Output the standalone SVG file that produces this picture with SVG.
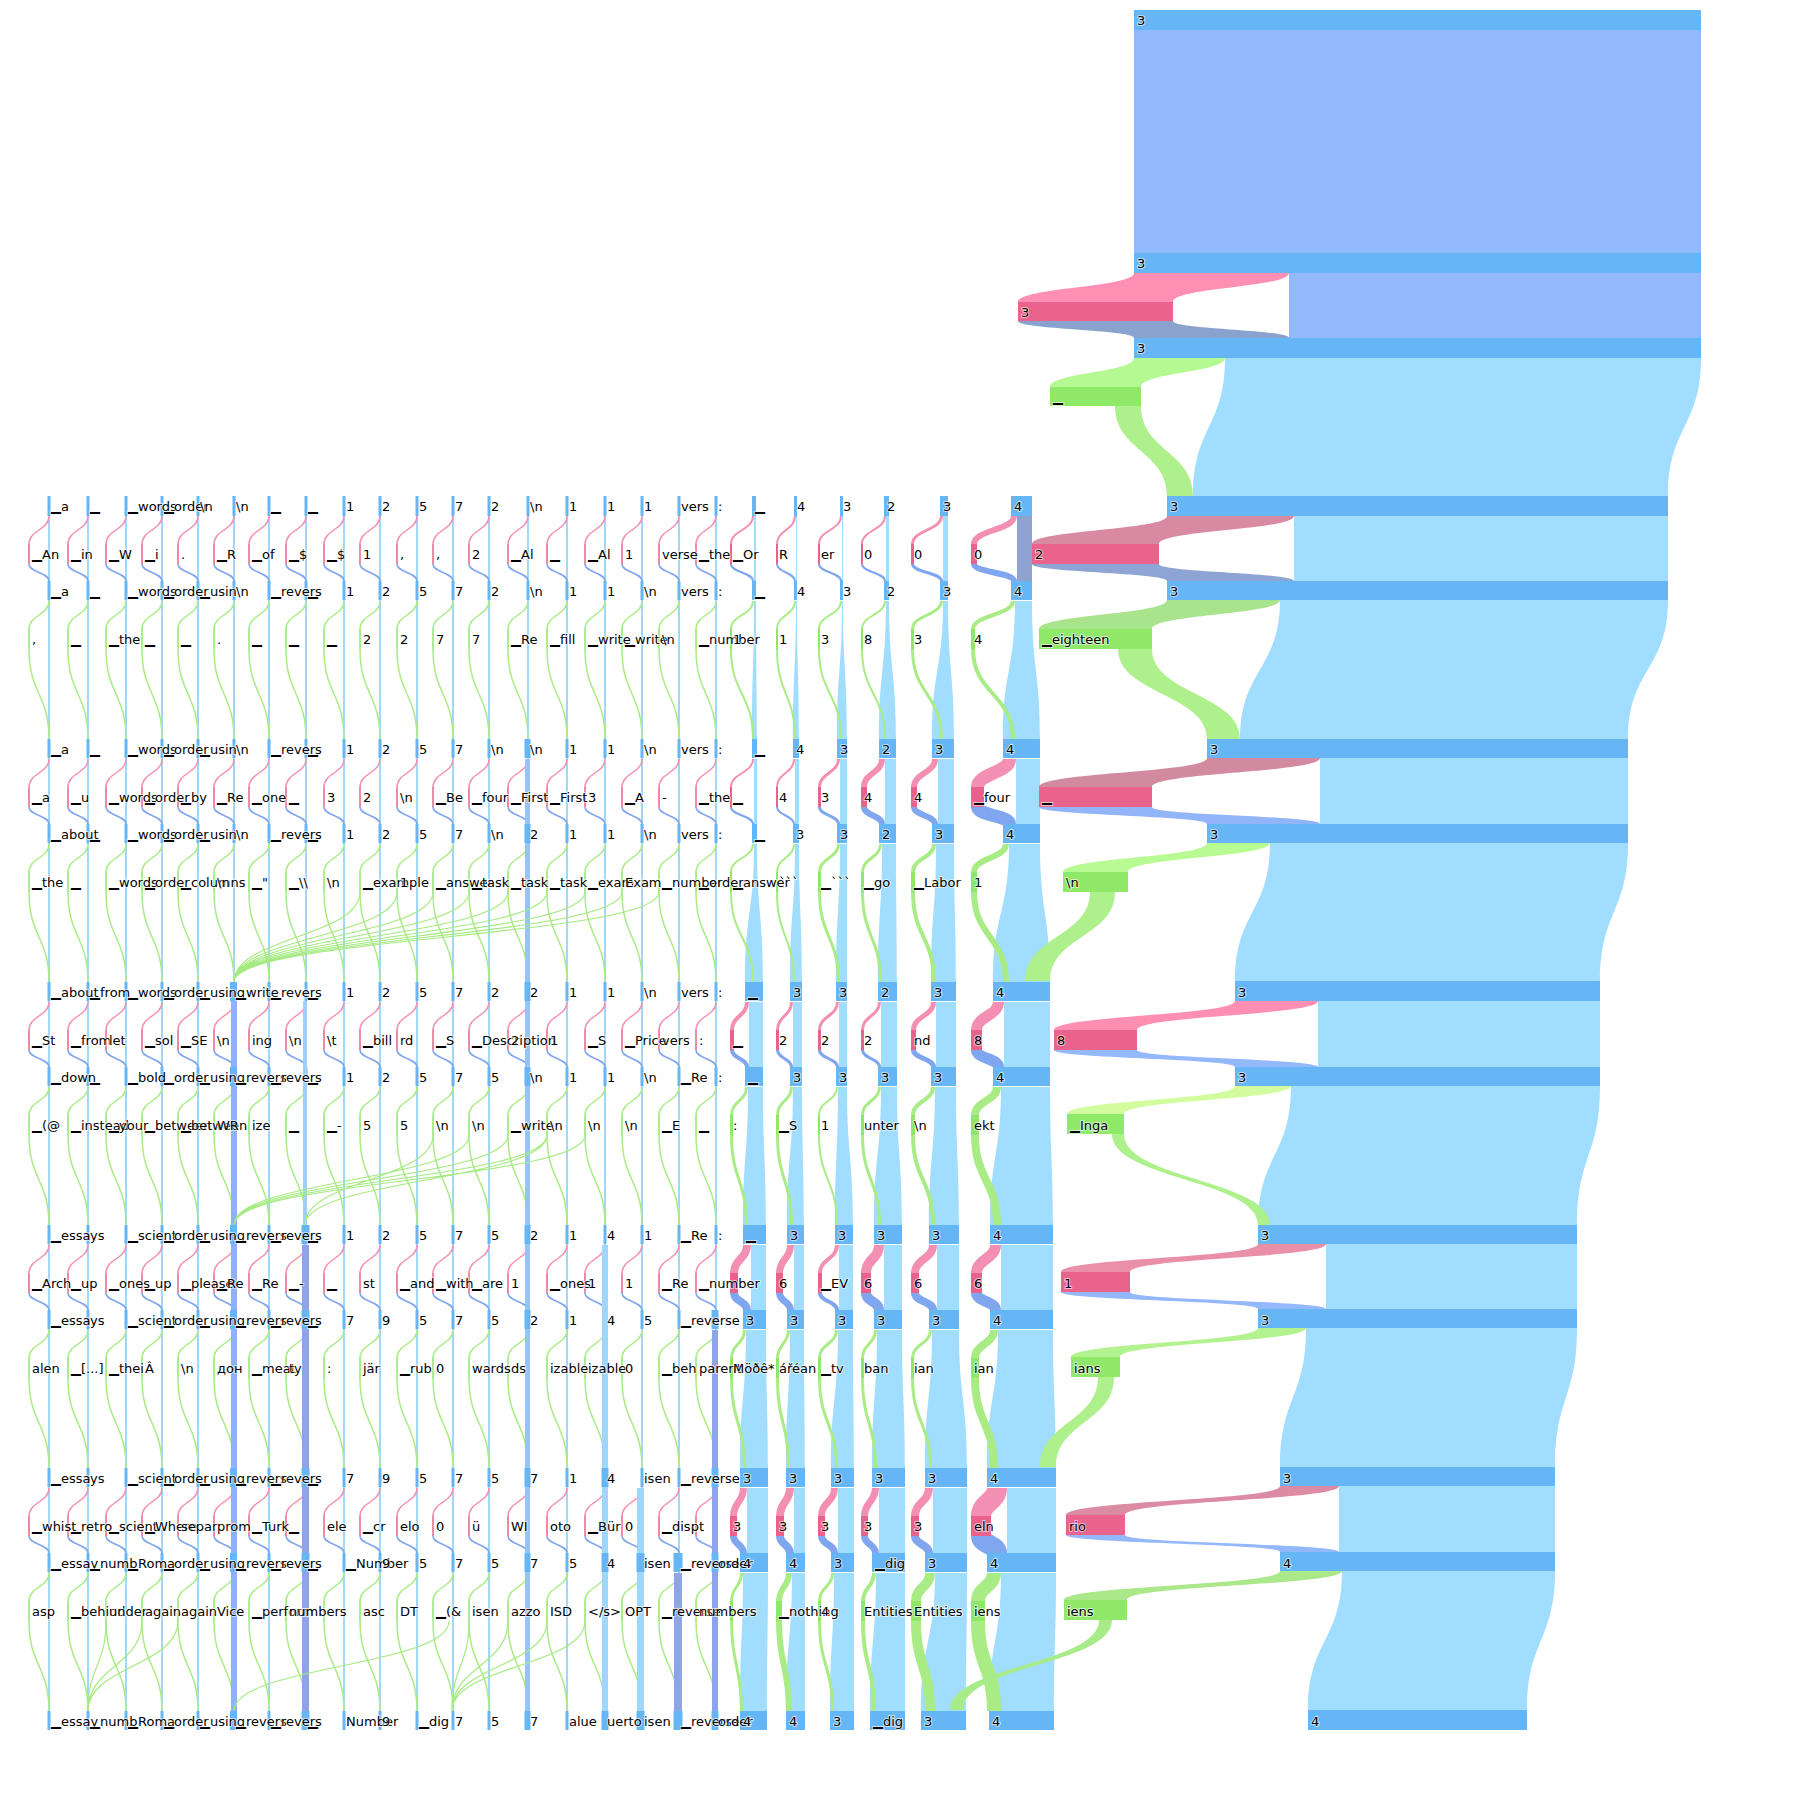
<svg xmlns="http://www.w3.org/2000/svg" width="1800" height="1800" viewBox="0 0 1800 1800">
<style>
text{font-family:"DejaVu Sans",Verdana,sans-serif;font-size:13px;fill:#000;paint-order:stroke;stroke:#fff;stroke-width:2px;stroke-opacity:.6}
.n{fill:#66b6f6}
.cs{fill:#a0d8fc}
.pi{fill:none;stroke:#f38fb2}
.pn{fill:none;stroke:#e8628b}
.pr{fill:none;stroke:#80a6ef}
.gi{fill:none;stroke:#a9ec86}
.gn{fill:none;stroke:#8ee866}
.go{fill:none;stroke:#a9ec86}
.lb{fill:#a0ddfe}
.pu{fill:#93b9fd}
.pk{fill:#e9638c}
.gr{fill:#8fe867}
.gf{fill:#aef08c}
.rt{fill:#93b8fc}
.x{fill:none;stroke:#a6ea82;stroke-width:1.2px}
</style>
<defs>
<g id="P"><path class="pi" vector-effect="non-scaling-stroke" d="M0,20C0,34 -20,34 -20,48"/><path class="pn" vector-effect="non-scaling-stroke" d="M-20,48V68"/><path class="pr" vector-effect="non-scaling-stroke" d="M-20,68C-20,76.5 0,76.5 0,85"/></g>
<g id="G"><path class="gi" vector-effect="non-scaling-stroke" d="M0,105C0,119 -20,119 -20,133"/><path class="gn" vector-effect="non-scaling-stroke" d="M-20,133V153"/><path class="go" vector-effect="non-scaling-stroke" d="M-20,153C-20,198 0,198 0,243"/></g>
<g id="COL" style="stroke-width:1.5px">
<rect class="cs" x="0" y="496" width="2" height="1234"/>
<use href="#P" x="1" y="496"/><use href="#P" x="1" y="739"/><use href="#P" x="1" y="982"/><use href="#P" x="1" y="1225"/><use href="#P" x="1" y="1468"/>
<use href="#G" x="1" y="496"/><use href="#G" x="1" y="739"/><use href="#G" x="1" y="982"/><use href="#G" x="1" y="1225"/><use href="#G" x="1" y="1468"/>
<path class="n" d="M-.5,496h3v20h-3zM-.5,581h3v19h-3zM-.5,739h3v19h-3zM-.5,824h3v19h-3zM-.5,982h3v19h-3zM-.5,1067h3v19h-3zM-.5,1225h3v19h-3zM-.5,1310h3v19h-3zM-.5,1468h3v19h-3zM-.5,1553h3v19h-3zM-.5,1711h3v19h-3z"/>
</g>
</defs>
<rect width="1800" height="1800" fill="#fff"/>

<g id="connectors">
<g id="left-columns">
<use href="#COL" x="48"/><use href="#COL" x="87"/><use href="#COL" x="125"/><use href="#COL" x="161"/><use href="#COL" x="197"/><use href="#COL" x="233"/><use href="#COL" x="268"/><use href="#COL" x="305"/><use href="#COL" x="343"/><use href="#COL" x="379"/><use href="#COL" x="416"/><use href="#COL" x="452"/><use href="#COL" x="488"/><use href="#COL" x="527"/><use href="#COL" x="566"/><use href="#COL" x="604"/><use href="#COL" x="641"/><use href="#COL" x="678"/><use href="#COL" x="715"/>
<rect x="231" y="1001" width="6" height="729" fill="#8fb1f5"/>
<rect x="303" y="1001" width="4" height="244" fill="#9ccffb"/>
<rect x="302" y="1245" width="7" height="485" fill="#8fa4e6"/>
<rect x="525" y="759" width="5" height="971" fill="#96c3f9"/>
<rect x="712" y="1330" width="6" height="400" fill="#8fa4e6"/>
<rect x="674" y="1573" width="8" height="157" fill="#8fa4e6"/>
<rect x="602" y="1245" width="6" height="485" fill="#9fd6fd"/>
<rect x="637" y="1488" width="7" height="242" fill="#9fd6fd"/>
<path class="n" d="M230,982h7v19h-7zM230,1067h7v19h-7zM230,1225h7v19h-7zM230,1310h7v19h-7zM230,1468h7v19h-7zM230,1553h7v19h-7zM230,1711h7v19h-7zM301.5,1225h8v19h-8zM301.5,1310h8v19h-8zM301.5,1468h8v19h-8zM301.5,1553h8v19h-8zM301.5,1711h8v19h-8zM524.5,739h6v19h-6zM524.5,824h6v19h-6zM524.5,982h6v19h-6zM524.5,1067h6v19h-6zM524.5,1225h6v19h-6zM524.5,1310h6v19h-6zM524.5,1468h6v19h-6zM524.5,1553h6v19h-6zM524.5,1711h6v19h-6zM711.5,1310h7v19h-7zM711.5,1468h7v19h-7zM711.5,1553h7v19h-7zM711.5,1711h7v19h-7zM673.5,1553h9v19h-9zM673.5,1711h9v19h-9zM601.5,1468h7v19h-7zM601.5,1553h7v19h-7zM601.5,1711h7v19h-7zM636.5,1553h8v19h-8zM636.5,1711h8v19h-8z"/>
<path class="x" d="M360,892C360,937 234,937 234,982M397,892C397,937 234,937 234,982M433,892C433,937 234,937 234,982M469,892C469,937 234,937 234,982M508,892C508,937 234,937 234,982M547,892C547,937 234,937 234,982M585,892C585,937 234,937 234,982M622,892C622,937 234,937 234,982M659,892C659,937 234,937 234,982M469,1135C469,1180 234,1180 234,1225M508,1135C508,1180 234,1180 234,1225M547,1135C547,1180 234,1180 234,1225M585,1135C585,1180 234,1180 234,1225M433,1135C433,1180 305,1180 305,1225M547,1135C547,1180 305,1180 305,1225M106,1621C106,1666 88,1666 88,1711M142,1621C142,1666 88,1666 88,1711M178,1621C178,1666 88,1666 88,1711M449,1621C449,1666 234,1666 234,1711M469,1621C469,1666 452,1666 452,1711M508,1621C508,1666 452,1666 452,1711M547,1621C547,1666 452,1666 452,1711M585,1621C585,1666 452,1666 452,1711"/>
</g>

<g id="right-columns">
<rect x="1017" y="516" width="15" height="65" fill="#8ea3d0"/>
<path class="lb" d="M754,516h2v65h-2zM796,516h1v65h-1zM842,516h1v65h-1zM886,516h3v65h-3zM943,516h5v65h-5z
M754,601C754,670 752,670 752,739H757C757,670 756,670 756,601Z
M796,601C796,670 793,670 793,739H799C799,670 797,670 797,601Z
M842,601C842,670 837,670 837,739H847C847,670 843,670 843,601Z
M886,601C886,670 879,670 879,739H896C896,670 889,670 889,601Z
M943,601C943,670 932,670 932,739H954C954,670 948,670 948,601Z
M1015,601C1015,670 1003,670 1003,739H1040C1040,670 1032,670 1032,601Z
M754,759h3v65h-3zM795,759h4v65h-4zM840,759h7v65h-7zM885,759h11v65h-11zM938,759h16v65h-16zM1016,759h24v65h-24z
M754,844C754,913 745,913 745,982H763C763,913 757,913 757,844Z
M795,844C795,913 790,913 790,982H802C802,913 799,913 799,844Z
M840,844C840,913 836,913 836,982H847C847,913 847,913 847,844Z
M882,844C882,913 878,913 878,982H897C897,913 896,913 896,844Z
M936,844C936,913 931,913 931,982H956C956,913 954,913 954,844Z
M1009,844C1009,913 993,913 993,982H1050C1050,913 1040,913 1040,844Z
M749,1002h14v65h-14zM793,1002h9v65h-9zM839,1002h8v65h-8zM881,1002h16v65h-16zM936,1002h20v65h-20zM1004,1002h46v65h-46z
M748,1087C748,1156 743,1156 743,1225H766C766,1156 763,1156 763,1087Z
M793,1087C793,1156 787,1156 787,1225H804C804,1156 802,1156 802,1087Z
M838,1087C838,1156 835,1156 835,1225H853C853,1156 847,1156 847,1087Z
M881,1087C881,1156 874,1156 874,1225H902C902,1156 897,1156 897,1087Z
M935,1087C935,1156 929,1156 929,1225H959C959,1156 956,1156 956,1087Z
M1001,1087C1001,1156 990,1156 990,1225H1053C1053,1156 1050,1156 1050,1087Z
M751,1245h15v65h-15zM794,1245h10v65h-10zM839,1245h14v65h-14zM884,1245h18v65h-18zM937,1245h22v65h-22zM1001,1245h52v65h-52z
M746,1330C746,1399 740,1399 740,1468H768C768,1399 766,1399 766,1330Z
M790,1330C790,1399 786,1399 786,1468H805C805,1399 804,1399 804,1330Z
M838,1330C838,1399 831,1399 831,1468H854C854,1399 853,1399 853,1330Z
M877,1330C877,1399 872,1399 872,1468H905C905,1399 902,1399 902,1330Z
M932,1330C932,1399 925,1399 925,1468H967C967,1399 959,1399 959,1330Z
M998,1330C998,1399 987,1399 987,1468H1056C1056,1399 1053,1399 1053,1330Z
M747,1488h21v65h-21zM794,1488h11v65h-11zM838,1488h16v65h-16zM879,1488h26v65h-26zM933,1488h34v65h-34zM1007,1488h49v65h-49z
M743,1573C743,1642 740,1642 740,1711H767C767,1642 768,1642 768,1573Z
M792,1573C792,1642 786,1642 786,1711H805C805,1642 805,1642 805,1573Z
M834,1573C834,1642 830,1642 830,1711H854C854,1642 854,1642 854,1573Z
M876,1573C876,1642 870,1642 870,1711H905C905,1642 905,1642 905,1573Z
M935,1573C935,1642 921,1642 921,1711H966C966,1642 967,1642 967,1573Z
M1001,1573C1001,1642 989,1642 989,1711H1054C1054,1642 1056,1642 1056,1573Z"/>
<use href="#P" transform="translate(753,496) scale(1.1,1)" style="stroke-width:2px"/><use href="#G" transform="translate(753,496) scale(1.1,1)" style="stroke-width:2px"/>
<use href="#P" transform="translate(795,496) scale(.9,1)" style="stroke-width:2px"/><use href="#G" transform="translate(795,496) scale(.9,1)" style="stroke-width:2px"/>
<use href="#P" transform="translate(841,496) scale(1.1,1)" style="stroke-width:2px"/><use href="#G" transform="translate(841,496) scale(1.1,1)" style="stroke-width:2px"/>
<use href="#P" transform="translate(885,496) scale(1.15,1)" style="stroke-width:2px"/><use href="#G" transform="translate(885,496) scale(1.15,1)" style="stroke-width:2px"/>
<use href="#P" transform="translate(941.5,496) scale(1.45,1)" style="stroke-width:3px"/><use href="#G" transform="translate(941.5,496) scale(1.45,1)" style="stroke-width:3px"/>
<use href="#P" transform="translate(1014,496) scale(2,1)" style="stroke-width:6px"/><use href="#G" transform="translate(1013,496) scale(2,1)" style="stroke-width:4px"/>
<use href="#P" transform="translate(753,739) scale(1.1,1)" style="stroke-width:2px"/><use href="#G" transform="translate(753,739) scale(1.1,1)" style="stroke-width:2px"/>
<use href="#P" transform="translate(794,739) scale(.85,1)" style="stroke-width:2px"/><use href="#G" transform="translate(794,739) scale(.85,1)" style="stroke-width:2px"/>
<use href="#P" transform="translate(838.5,739) scale(.95,1)" style="stroke-width:3px"/><use href="#G" transform="translate(838.5,739) scale(.95,1)" style="stroke-width:3px"/>
<use href="#P" transform="translate(882,739) scale(.9,1)" style="stroke-width:6px"/><use href="#G" transform="translate(880.5,739) scale(.9,1)" style="stroke-width:3px"/>
<use href="#P" transform="translate(935,739) scale(1.05,1)" style="stroke-width:6px"/><use href="#G" transform="translate(934,739) scale(1.05,1)" style="stroke-width:4px"/>
<use href="#P" transform="translate(1009.5,739) scale(1.6,1)" style="stroke-width:13px"/><use href="#G" transform="translate(1006,739) scale(1.6,1)" style="stroke-width:6px"/>
<use href="#P" transform="translate(747,982) scale(.75,1)" style="stroke-width:4px"/><use href="#G" transform="translate(746.5,982) scale(.75,1)" style="stroke-width:3px"/>
<use href="#P" transform="translate(791.5,982) scale(.7,1)" style="stroke-width:3px"/><use href="#G" transform="translate(791.5,982) scale(.7,1)" style="stroke-width:3px"/>
<use href="#P" transform="translate(837.5,982) scale(.9,1)" style="stroke-width:3px"/><use href="#G" transform="translate(837,982) scale(.9,1)" style="stroke-width:2px"/>
<use href="#P" transform="translate(879.5,982) scale(.85,1)" style="stroke-width:3px"/><use href="#G" transform="translate(879.5,982) scale(.85,1)" style="stroke-width:3px"/>
<use href="#P" transform="translate(933.5,982)" style="stroke-width:5px"/><use href="#G" transform="translate(933,982)" style="stroke-width:4px"/>
<use href="#P" transform="translate(998.5,982) scale(1.1,1)" style="stroke-width:11px"/><use href="#G" transform="translate(997,982) scale(1.1,1)" style="stroke-width:8px"/>
<use href="#P" transform="translate(747,1225) scale(.65,1)" style="stroke-width:8px"/><use href="#G" transform="translate(744.5,1225) scale(.65,1)" style="stroke-width:3px"/>
<use href="#P" transform="translate(790.5,1225) scale(.55,1)" style="stroke-width:7px"/><use href="#G" transform="translate(788.5,1225) scale(.55,1)" style="stroke-width:3px"/>
<use href="#P" transform="translate(837,1225) scale(.85,1)" style="stroke-width:4px"/><use href="#G" transform="translate(836.5,1225) scale(.85,1)" style="stroke-width:3px"/>
<use href="#P" transform="translate(879,1225) scale(.65,1)" style="stroke-width:10px"/><use href="#G" transform="translate(875.5,1225) scale(.65,1)" style="stroke-width:3px"/>
<use href="#P" transform="translate(933,1225) scale(.9,1)" style="stroke-width:8px"/><use href="#G" transform="translate(930.5,1225) scale(.9,1)" style="stroke-width:3px"/>
<use href="#P" transform="translate(995.5,1225) scale(.95,1)" style="stroke-width:11px"/><use href="#G" transform="translate(994,1225) scale(.95,1)" style="stroke-width:8px"/>
<use href="#P" transform="translate(743.5,1468) scale(.5,1)" style="stroke-width:7px"/><use href="#G" transform="translate(741.5,1468) scale(.5,1)" style="stroke-width:3px"/>
<use href="#P" transform="translate(790,1468) scale(.5,1)" style="stroke-width:8px"/><use href="#G" transform="translate(789,1468) scale(.5,1)" style="stroke-width:6px"/>
<use href="#P" transform="translate(834.5,1468) scale(.65,1)" style="stroke-width:7px"/><use href="#G" transform="translate(832.5,1468) scale(.65,1)" style="stroke-width:3px"/>
<use href="#P" transform="translate(875.5,1468) scale(.55,1)" style="stroke-width:7px"/><use href="#G" transform="translate(874,1468) scale(.55,1)" style="stroke-width:4px"/>
<use href="#P" transform="translate(929,1468) scale(.7,1)" style="stroke-width:8px"/><use href="#G" transform="translate(930,1468) scale(.7,1)" style="stroke-width:10px"/>
<use href="#P" transform="translate(997,1468) scale(.8,1)" style="stroke-width:20px"/><use href="#G" transform="translate(994,1468) scale(.8,1)" style="stroke-width:14px"/>
</g>

<g id="main-flows">
<rect class="pu" x="1134" y="30" width="567" height="223"/>
<path fill="#ff90b4" d="M1134,273C1134,287.5 1018,287.5 1018,302H1173C1173,287.5 1289,287.5 1289,273Z"/>
<path fill="#8aa2ce" d="M1018,321C1018,329.5 1134,329.5 1134,338H1289C1289,329.5 1173,329.5 1173,321Z"/>
<rect class="pu" x="1289" y="273" width="412" height="65"/>
<path fill="#b4f991" d="M1134,358C1134,372.5 1050,372.5 1050,387H1141C1141,372.5 1225,372.5 1225,358Z"/>
<path class="lb" d="M1225,358C1225,427 1193,427 1193,496H1668C1668,427 1701,427 1701,358Z"/>
<path class="gf" d="M1115,406C1115,451 1167,451 1167,496H1193C1193,451 1141,451 1141,406Z"/>
<path fill="#d98aa3" d="M1167,516C1167,530 1032,530 1032,544H1159C1159,530 1294,530 1294,516Z"/>
<path fill="#8ea4d4" d="M1032,564C1032,572.5 1167,572.5 1167,581H1294C1294,572.5 1159,572.5 1159,564Z"/>
<rect class="lb" x="1294" y="516" width="374" height="65"/>
<path fill="#a9e48d" d="M1167,600C1167,614.5 1039,614.5 1039,629H1152C1152,614.5 1280,614.5 1280,600Z"/>
<path class="lb" d="M1280,600C1280,669.5 1240,669.5 1240,739H1628C1628,669.5 1668,669.5 1668,600Z"/>
<path class="gf" d="M1118,649C1118,694 1207,694 1207,739H1240C1240,694 1152,694 1152,649Z"/>
<path fill="#d18aa0" d="M1207,758C1207,772.5 1039,772.5 1039,787H1152C1152,772.5 1320,772.5 1320,758Z"/>
<path fill="#92b4f8" d="M1039,807C1039,815.5 1207,815.5 1207,824H1320C1320,815.5 1152,815.5 1152,807Z"/>
<rect class="lb" x="1320" y="758" width="308" height="66"/>
<path fill="#b9fb93" d="M1207,843C1207,857.5 1063,857.5 1063,872H1128C1128,857.5 1270,857.5 1270,843Z"/>
<path class="lb" d="M1270,843C1270,912 1235,912 1235,981H1600C1600,912 1628,912 1628,843Z"/>
<path class="gf" d="M1090,892C1090,936.5 1025,936.5 1025,981H1050C1050,936.5 1115,936.5 1115,892Z"/>
<path fill="#ff8fb2" d="M1235,1001C1235,1015.5 1054,1015.5 1054,1030H1137C1137,1015.5 1318,1015.5 1318,1001Z"/>
<path class="rt" d="M1054,1050C1054,1058.5 1235,1058.5 1235,1067H1318C1318,1058.5 1137,1058.5 1137,1050Z"/>
<rect class="lb" x="1318" y="1001" width="282" height="66"/>
<path fill="#d2fd9e" d="M1235,1086C1235,1100 1067,1100 1067,1114H1124C1124,1100 1291,1100 1291,1086Z"/>
<path class="lb" d="M1291,1086C1291,1155.5 1258,1155.5 1258,1225H1577C1577,1155.5 1600,1155.5 1600,1086Z"/>
<path class="gf" d="M1112,1134C1112,1179.5 1258,1179.5 1258,1225H1270C1270,1179.5 1124,1179.5 1124,1134Z"/>
<path fill="#e98fa8" d="M1258,1244C1258,1258 1061,1258 1061,1272H1130C1130,1258 1326,1258 1326,1244Z"/>
<path class="rt" d="M1061,1292C1061,1300.5 1258,1300.5 1258,1309H1326C1326,1300.5 1130,1300.5 1130,1292Z"/>
<rect class="lb" x="1326" y="1244" width="251" height="65"/>
<path fill="#b2f38f" d="M1258,1328C1258,1342.5 1071,1342.5 1071,1357H1120C1120,1342.5 1306,1342.5 1306,1328Z"/>
<path class="lb" d="M1306,1328C1306,1397.5 1280,1397.5 1280,1467H1555C1555,1397.5 1577,1397.5 1577,1328Z"/>
<path class="gf" d="M1098,1377C1098,1422 1040,1422 1040,1467H1056C1056,1422 1114,1422 1114,1377Z"/>
<path fill="#dc8ba5" d="M1280,1486C1280,1500.5 1066,1500.5 1066,1515H1125C1125,1500.5 1339,1500.5 1339,1486Z"/>
<path class="rt" d="M1066,1535C1066,1543.5 1280,1543.5 1280,1552H1339C1339,1543.5 1125,1543.5 1125,1535Z"/>
<rect class="lb" x="1339" y="1486" width="216" height="66"/>
<path fill="#abe88a" d="M1280,1571C1280,1585.5 1064,1585.5 1064,1600H1127C1127,1585.5 1342,1585.5 1342,1571Z"/>
<path class="lb" d="M1342,1571C1342,1640.5 1308,1640.5 1308,1710H1527C1527,1640.5 1555,1640.5 1555,1571Z"/>
<path fill="#a8ec8a" d="M1099,1620C1099,1665 950,1665 950,1710H963C963,1665 1112,1665 1112,1620Z"/>
</g>
</g>

<g id="nodes">
<path class="n" d="M752,496h4v20h-4zM794,496h3v20h-3zM840,496h3v20h-3zM884,496h5v20h-5zM940,496h8v20h-8zM1011,496h21v20h-21zM752,581h4v19h-4zM794,581h3v19h-3zM840,581h3v19h-3zM884,581h5v19h-5zM940,581h8v19h-8zM1011,581h21v19h-21z
M752,739h5v19h-5zM793,739h6v19h-6zM837,739h10v19h-10zM879,739h17v19h-17zM932,739h22v19h-22zM1003,739h37v19h-37zM752,824h5v19h-5zM793,824h6v19h-6zM837,824h10v19h-10zM879,824h17v19h-17zM932,824h22v19h-22zM1003,824h37v19h-37z
M745,982h18v19h-18zM790,982h12v19h-12zM836,982h11v19h-11zM878,982h19v19h-19zM931,982h25v19h-25zM993,982h57v19h-57zM745,1067h18v19h-18zM790,1067h12v19h-12zM836,1067h11v19h-11zM878,1067h19v19h-19zM931,1067h25v19h-25zM993,1067h57v19h-57z
M743,1225h23v19h-23zM787,1225h17v19h-17zM835,1225h18v19h-18zM874,1225h28v19h-28zM929,1225h30v19h-30zM990,1225h63v19h-63zM743,1310h23v19h-23zM787,1310h17v19h-17zM835,1310h18v19h-18zM874,1310h28v19h-28zM929,1310h30v19h-30zM990,1310h63v19h-63z
M740,1468h28v19h-28zM786,1468h19v19h-19zM831,1468h23v19h-23zM872,1468h33v19h-33zM925,1468h42v19h-42zM987,1468h69v19h-69zM740,1553h28v19h-28zM786,1553h19v19h-19zM831,1553h23v19h-23zM872,1553h33v19h-33zM925,1553h42v19h-42zM987,1553h69v19h-69z
M740,1711h27v19h-27zM786,1711h19v19h-19zM830,1711h24v19h-24zM870,1711h35v19h-35zM921,1711h45v19h-45zM989,1711h65v19h-65z"/>
<g id="main-nodes">
<rect class="n" x="1134" y="10" width="567" height="20"/>
<rect class="n" x="1134" y="253" width="567" height="20"/>
<rect class="pk" x="1018" y="302" width="155" height="19"/>
<rect class="n" x="1134" y="338" width="567" height="20"/>
<rect class="gr" x="1050" y="387" width="91" height="19"/>
<rect class="n" x="1167" y="496" width="501" height="20"/>
<rect class="pk" x="1032" y="544" width="127" height="20"/>
<rect class="n" x="1167" y="581" width="501" height="19"/>
<rect class="gr" x="1039" y="629" width="113" height="20"/>
<rect class="n" x="1207" y="739" width="421" height="19"/>
<rect class="pk" x="1039" y="787" width="113" height="20"/>
<rect class="n" x="1207" y="824" width="421" height="19"/>
<rect class="gr" x="1063" y="872" width="65" height="20"/>
<rect class="n" x="1235" y="981" width="365" height="20"/>
<rect class="pk" x="1054" y="1030" width="83" height="20"/>
<rect class="n" x="1235" y="1067" width="365" height="19"/>
<rect class="gr" x="1067" y="1114" width="57" height="20"/>
<rect class="n" x="1258" y="1225" width="319" height="19"/>
<rect class="pk" x="1061" y="1272" width="69" height="20"/>
<rect class="n" x="1258" y="1309" width="319" height="19"/>
<rect class="gr" x="1071" y="1357" width="49" height="20"/>
<rect class="n" x="1280" y="1467" width="275" height="19"/>
<rect class="pk" x="1066" y="1515" width="59" height="20"/>
<rect class="n" x="1280" y="1552" width="275" height="19"/>
<rect class="gr" x="1064" y="1600" width="63" height="20"/>
<rect class="n" x="1308" y="1710" width="219" height="20"/>
</g>
</g>

<g id="labels">
<g id="main-labels">
<text x="1137" y="25">3</text><text x="1137" y="268">3</text><text x="1021" y="317">3</text><text x="1137" y="353">3</text><text x="1053" y="402">▁</text>
<text x="1170" y="511">3</text><text x="1035" y="559">2</text><text x="1170" y="596">3</text><text x="1042" y="644">▁eighteen</text>
<text x="1210" y="754">3</text><text x="1042" y="802">▁</text><text x="1210" y="839">3</text><text x="1066" y="887">\n</text>
<text x="1238" y="997">3</text><text x="1057" y="1045">8</text><text x="1238" y="1082">3</text><text x="1070" y="1130">▁Inga</text>
<text x="1261" y="1240">3</text><text x="1064" y="1288">1</text><text x="1261" y="1325">3</text><text x="1074" y="1373">ians</text>
<text x="1283" y="1483">3</text><text x="1069" y="1531">rio</text><text x="1283" y="1568">4</text><text x="1067" y="1616">iens</text>
<text x="1311" y="1726">4</text>
</g>
<text id="row1" y="511"><tspan x="51">▁a</tspan><tspan x="90">▁</tspan><tspan x="128">▁words</tspan><tspan x="164">▁order</tspan><tspan x="200">\n</tspan><tspan x="236">\n</tspan><tspan x="271">▁</tspan><tspan x="308">▁</tspan><tspan x="346">1</tspan><tspan x="382">2</tspan><tspan x="419">5</tspan><tspan x="455">7</tspan><tspan x="491">2</tspan><tspan x="530">\n</tspan><tspan x="569">1</tspan><tspan x="607">1</tspan><tspan x="644">1</tspan><tspan x="681">vers</tspan><tspan x="718">:</tspan><tspan x="755">▁</tspan><tspan x="797">4</tspan><tspan x="843">3</tspan><tspan x="887">2</tspan><tspan x="943">3</tspan><tspan x="1014">4</tspan></text>
<text id="row2" y="559"><tspan x="32">▁An</tspan><tspan x="71">▁in</tspan><tspan x="109">▁W</tspan><tspan x="145">▁i</tspan><tspan x="181">.</tspan><tspan x="217">▁R</tspan><tspan x="252">▁of</tspan><tspan x="289">▁$</tspan><tspan x="327">▁$</tspan><tspan x="363">1</tspan><tspan x="400">,</tspan><tspan x="436">,</tspan><tspan x="472">2</tspan><tspan x="511">▁Al</tspan><tspan x="550">▁</tspan><tspan x="588">▁Al</tspan><tspan x="625">1</tspan><tspan x="662">verse</tspan><tspan x="699">▁the</tspan><tspan x="733">▁Or</tspan><tspan x="779">R</tspan><tspan x="821">er</tspan><tspan x="864">0</tspan><tspan x="914">0</tspan><tspan x="974">0</tspan></text>
<text id="row3" y="596"><tspan x="51">▁a</tspan><tspan x="90">▁</tspan><tspan x="128">▁words</tspan><tspan x="164">▁order</tspan><tspan x="200">▁usin</tspan><tspan x="236">\n</tspan><tspan x="271">▁revers</tspan><tspan x="308">▁</tspan><tspan x="346">1</tspan><tspan x="382">2</tspan><tspan x="419">5</tspan><tspan x="455">7</tspan><tspan x="491">2</tspan><tspan x="530">\n</tspan><tspan x="569">1</tspan><tspan x="607">1</tspan><tspan x="644">\n</tspan><tspan x="681">vers</tspan><tspan x="718">:</tspan><tspan x="755">▁</tspan><tspan x="797">4</tspan><tspan x="843">3</tspan><tspan x="887">2</tspan><tspan x="943">3</tspan><tspan x="1014">4</tspan></text>
<text id="row4" y="644"><tspan x="32">,</tspan><tspan x="71">▁</tspan><tspan x="109">▁the</tspan><tspan x="145">▁</tspan><tspan x="181">▁</tspan><tspan x="217">.</tspan><tspan x="252">▁</tspan><tspan x="289">▁</tspan><tspan x="327">▁</tspan><tspan x="363">2</tspan><tspan x="400">2</tspan><tspan x="436">7</tspan><tspan x="472">7</tspan><tspan x="511">▁Re</tspan><tspan x="550">▁fill</tspan><tspan x="588">▁write</tspan><tspan x="625">▁write</tspan><tspan x="662">\n</tspan><tspan x="699">▁number</tspan><tspan x="733">1</tspan><tspan x="779">1</tspan><tspan x="821">3</tspan><tspan x="864">8</tspan><tspan x="914">3</tspan><tspan x="974">4</tspan></text>
<text id="row5" y="754"><tspan x="51">▁a</tspan><tspan x="90">▁</tspan><tspan x="128">▁words</tspan><tspan x="164">▁order</tspan><tspan x="200">▁usin</tspan><tspan x="236">\n</tspan><tspan x="271">▁revers</tspan><tspan x="308">▁</tspan><tspan x="346">1</tspan><tspan x="382">2</tspan><tspan x="419">5</tspan><tspan x="455">7</tspan><tspan x="491">\n</tspan><tspan x="530">\n</tspan><tspan x="569">1</tspan><tspan x="607">1</tspan><tspan x="644">\n</tspan><tspan x="681">vers</tspan><tspan x="718">:</tspan><tspan x="755">▁</tspan><tspan x="796">4</tspan><tspan x="840">3</tspan><tspan x="882">2</tspan><tspan x="935">3</tspan><tspan x="1006">4</tspan></text>
<text id="row6" y="802"><tspan x="32">▁a</tspan><tspan x="71">▁u</tspan><tspan x="109">▁words</tspan><tspan x="145">▁order</tspan><tspan x="181">▁by</tspan><tspan x="217">▁Re</tspan><tspan x="252">▁one</tspan><tspan x="289">▁</tspan><tspan x="327">3</tspan><tspan x="363">2</tspan><tspan x="400">\n</tspan><tspan x="436">▁Be</tspan><tspan x="472">▁four</tspan><tspan x="511">▁First</tspan><tspan x="550">▁First</tspan><tspan x="588">3</tspan><tspan x="625">▁A</tspan><tspan x="662">-</tspan><tspan x="699">▁the</tspan><tspan x="733">▁</tspan><tspan x="779">4</tspan><tspan x="821">3</tspan><tspan x="864">4</tspan><tspan x="914">4</tspan><tspan x="974">▁four</tspan></text>
<text id="row7" y="839"><tspan x="51">▁about</tspan><tspan x="90">▁</tspan><tspan x="128">▁words</tspan><tspan x="164">▁order</tspan><tspan x="200">▁usin</tspan><tspan x="236">\n</tspan><tspan x="271">▁revers</tspan><tspan x="308">▁</tspan><tspan x="346">1</tspan><tspan x="382">2</tspan><tspan x="419">5</tspan><tspan x="455">7</tspan><tspan x="491">\n</tspan><tspan x="530">2</tspan><tspan x="569">1</tspan><tspan x="607">1</tspan><tspan x="644">\n</tspan><tspan x="681">vers</tspan><tspan x="718">:</tspan><tspan x="755">▁</tspan><tspan x="796">3</tspan><tspan x="840">3</tspan><tspan x="882">2</tspan><tspan x="935">3</tspan><tspan x="1006">4</tspan></text>
<text id="row8" y="887"><tspan x="32">▁the</tspan><tspan x="71">▁</tspan><tspan x="109">▁words</tspan><tspan x="145">▁order</tspan><tspan x="181">▁columns</tspan><tspan x="217">\n</tspan><tspan x="252">▁"</tspan><tspan x="289">▁\\</tspan><tspan x="327">\n</tspan><tspan x="363">▁example</tspan><tspan x="400">1</tspan><tspan x="436">▁answer</tspan><tspan x="472">▁task</tspan><tspan x="511">▁task</tspan><tspan x="550">▁task</tspan><tspan x="588">▁exam</tspan><tspan x="625">Exam</tspan><tspan x="662">▁number</tspan><tspan x="699">▁order</tspan><tspan x="733">▁answer</tspan><tspan x="779">```</tspan><tspan x="821">▁```</tspan><tspan x="864">▁go</tspan><tspan x="914">▁Labor</tspan><tspan x="974">1</tspan></text>
<text id="row9" y="997"><tspan x="51">▁about</tspan><tspan x="90">▁from</tspan><tspan x="128">▁words</tspan><tspan x="164">▁order</tspan><tspan x="200">▁using</tspan><tspan x="236">▁write</tspan><tspan x="271">▁revers</tspan><tspan x="308">▁</tspan><tspan x="346">1</tspan><tspan x="382">2</tspan><tspan x="419">5</tspan><tspan x="455">7</tspan><tspan x="491">2</tspan><tspan x="530">2</tspan><tspan x="569">1</tspan><tspan x="607">1</tspan><tspan x="644">\n</tspan><tspan x="681">vers</tspan><tspan x="718">:</tspan><tspan x="748">▁</tspan><tspan x="793">3</tspan><tspan x="839">3</tspan><tspan x="881">2</tspan><tspan x="934">3</tspan><tspan x="996">4</tspan></text>
<text id="row10" y="1045"><tspan x="32">▁St</tspan><tspan x="71">▁from</tspan><tspan x="109">let</tspan><tspan x="145">▁sol</tspan><tspan x="181">▁SE</tspan><tspan x="217">\n</tspan><tspan x="252">ing</tspan><tspan x="289">\n</tspan><tspan x="327">\t</tspan><tspan x="363">▁bill</tspan><tspan x="400">rd</tspan><tspan x="436">▁S</tspan><tspan x="472">▁Description</tspan><tspan x="511">2</tspan><tspan x="550">1</tspan><tspan x="588">▁S</tspan><tspan x="625">▁Price</tspan><tspan x="662">vers</tspan><tspan x="699">:</tspan><tspan x="733">▁</tspan><tspan x="779">2</tspan><tspan x="821">2</tspan><tspan x="864">2</tspan><tspan x="914">nd</tspan><tspan x="974">8</tspan></text>
<text id="row11" y="1082"><tspan x="51">▁down</tspan><tspan x="90">▁</tspan><tspan x="128">▁bold</tspan><tspan x="164">▁order</tspan><tspan x="200">▁using</tspan><tspan x="236">▁revers</tspan><tspan x="271">▁revers</tspan><tspan x="308">▁</tspan><tspan x="346">1</tspan><tspan x="382">2</tspan><tspan x="419">5</tspan><tspan x="455">7</tspan><tspan x="491">5</tspan><tspan x="530">\n</tspan><tspan x="569">1</tspan><tspan x="607">1</tspan><tspan x="644">\n</tspan><tspan x="681">▁Re</tspan><tspan x="718">:</tspan><tspan x="748">▁</tspan><tspan x="793">3</tspan><tspan x="839">3</tspan><tspan x="881">3</tspan><tspan x="934">3</tspan><tspan x="996">4</tspan></text>
<text id="row12" y="1130"><tspan x="32">▁(@</tspan><tspan x="71">▁instead</tspan><tspan x="109">▁your</tspan><tspan x="145">▁between</tspan><tspan x="181">▁between</tspan><tspan x="217">WR</tspan><tspan x="252">ize</tspan><tspan x="289">▁</tspan><tspan x="327">▁-</tspan><tspan x="363">5</tspan><tspan x="400">5</tspan><tspan x="436">\n</tspan><tspan x="472">\n</tspan><tspan x="511">▁write</tspan><tspan x="550">\n</tspan><tspan x="588">\n</tspan><tspan x="625">\n</tspan><tspan x="662">▁E</tspan><tspan x="699">▁</tspan><tspan x="733">:</tspan><tspan x="779">▁S</tspan><tspan x="821">1</tspan><tspan x="864">unter</tspan><tspan x="914">\n</tspan><tspan x="974">ekt</tspan></text>
<text id="row13" y="1240"><tspan x="51">▁essa</tspan><tspan x="90">ys</tspan><tspan x="128">▁scient</tspan><tspan x="164">▁order</tspan><tspan x="200">▁using</tspan><tspan x="236">▁revers</tspan><tspan x="271">▁revers</tspan><tspan x="308">▁</tspan><tspan x="346">1</tspan><tspan x="382">2</tspan><tspan x="419">5</tspan><tspan x="455">7</tspan><tspan x="491">5</tspan><tspan x="530">2</tspan><tspan x="569">1</tspan><tspan x="607">4</tspan><tspan x="644">1</tspan><tspan x="681">▁Re</tspan><tspan x="718">:</tspan><tspan x="746">▁</tspan><tspan x="790">3</tspan><tspan x="838">3</tspan><tspan x="877">3</tspan><tspan x="932">3</tspan><tspan x="993">4</tspan></text>
<text id="row14" y="1288"><tspan x="32">▁Arch</tspan><tspan x="71">▁up</tspan><tspan x="109">▁ones</tspan><tspan x="145">▁up</tspan><tspan x="181">▁please</tspan><tspan x="217">▁Re</tspan><tspan x="252">▁Re</tspan><tspan x="289">▁-</tspan><tspan x="327">▁</tspan><tspan x="363">st</tspan><tspan x="400">▁and</tspan><tspan x="436">▁with</tspan><tspan x="472">▁are</tspan><tspan x="511">1</tspan><tspan x="550">▁ones</tspan><tspan x="588">1</tspan><tspan x="625">1</tspan><tspan x="662">▁Re</tspan><tspan x="699">▁number</tspan><tspan x="779">6</tspan><tspan x="821">▁EV</tspan><tspan x="864">6</tspan><tspan x="914">6</tspan><tspan x="974">6</tspan></text>
<text id="row15" y="1325"><tspan x="51">▁essa</tspan><tspan x="90">ys</tspan><tspan x="128">▁scient</tspan><tspan x="164">▁order</tspan><tspan x="200">▁using</tspan><tspan x="236">▁revers</tspan><tspan x="271">▁revers</tspan><tspan x="308">▁</tspan><tspan x="346">7</tspan><tspan x="382">9</tspan><tspan x="419">5</tspan><tspan x="455">7</tspan><tspan x="491">5</tspan><tspan x="530">2</tspan><tspan x="569">1</tspan><tspan x="607">4</tspan><tspan x="644">5</tspan><tspan x="681">▁reverse</tspan><tspan x="746">3</tspan><tspan x="790">3</tspan><tspan x="838">3</tspan><tspan x="877">3</tspan><tspan x="932">3</tspan><tspan x="993">4</tspan></text>
<text id="row16" y="1373"><tspan x="32">alen</tspan><tspan x="71">▁[...]</tspan><tspan x="109">▁thei</tspan><tspan x="145">Â</tspan><tspan x="181">\n</tspan><tspan x="217">дон</tspan><tspan x="252">▁meat</tspan><tspan x="289">ty</tspan><tspan x="327">:</tspan><tspan x="363">jär</tspan><tspan x="400">▁rub</tspan><tspan x="436">0</tspan><tspan x="472">wards</tspan><tspan x="511">ds</tspan><tspan x="550">izable</tspan><tspan x="588">izable</tspan><tspan x="625">0</tspan><tspan x="662">▁beh</tspan><tspan x="699">parent</tspan><tspan x="733">Möðê*</tspan><tspan x="779">ářéan</tspan><tspan x="821">▁tv</tspan><tspan x="864">ban</tspan><tspan x="914">ian</tspan><tspan x="974">ian</tspan></text>
<text id="row17" y="1483"><tspan x="51">▁essa</tspan><tspan x="90">ys</tspan><tspan x="128">▁scient</tspan><tspan x="164">▁order</tspan><tspan x="200">▁using</tspan><tspan x="236">▁revers</tspan><tspan x="271">▁revers</tspan><tspan x="308">▁</tspan><tspan x="346">7</tspan><tspan x="382">9</tspan><tspan x="419">5</tspan><tspan x="455">7</tspan><tspan x="491">5</tspan><tspan x="530">7</tspan><tspan x="569">1</tspan><tspan x="607">4</tspan><tspan x="644">isen</tspan><tspan x="681">▁reverse</tspan><tspan x="743">3</tspan><tspan x="789">3</tspan><tspan x="834">3</tspan><tspan x="875">3</tspan><tspan x="928">3</tspan><tspan x="990">4</tspan></text>
<text id="row18" y="1531"><tspan x="32">▁whist</tspan><tspan x="71">▁retro</tspan><tspan x="109">▁scient</tspan><tspan x="145">▁Where</tspan><tspan x="181">separ</tspan><tspan x="217">prom</tspan><tspan x="252">▁Turk</tspan><tspan x="289">▁</tspan><tspan x="327">ele</tspan><tspan x="363">▁cr</tspan><tspan x="400">elo</tspan><tspan x="436">0</tspan><tspan x="472">ü</tspan><tspan x="511">WI</tspan><tspan x="550">oto</tspan><tspan x="588">▁Bür</tspan><tspan x="625">0</tspan><tspan x="662">▁disp</tspan><tspan x="699">t</tspan><tspan x="733">3</tspan><tspan x="779">3</tspan><tspan x="821">3</tspan><tspan x="864">3</tspan><tspan x="914">3</tspan><tspan x="974">eln</tspan></text>
<text id="row19" y="1568"><tspan x="51">▁essay</tspan><tspan x="90">▁numb</tspan><tspan x="128">▁Roma</tspan><tspan x="164">▁order</tspan><tspan x="200">▁using</tspan><tspan x="236">▁revers</tspan><tspan x="271">▁revers</tspan><tspan x="308">▁</tspan><tspan x="346">▁Number</tspan><tspan x="382">9</tspan><tspan x="419">5</tspan><tspan x="455">7</tspan><tspan x="491">5</tspan><tspan x="530">7</tspan><tspan x="569">5</tspan><tspan x="607">4</tspan><tspan x="644">isen</tspan><tspan x="681">▁reverse</tspan><tspan x="718">order</tspan><tspan x="743">4</tspan><tspan x="789">4</tspan><tspan x="834">3</tspan><tspan x="875">▁dig</tspan><tspan x="928">3</tspan><tspan x="990">4</tspan></text>
<text id="row20" y="1616"><tspan x="32">asp</tspan><tspan x="71">▁behind</tspan><tspan x="109">under</tspan><tspan x="145">again</tspan><tspan x="181">again</tspan><tspan x="217">Vice</tspan><tspan x="252">▁perform</tspan><tspan x="289">numbers</tspan><tspan x="363">asc</tspan><tspan x="400">DT</tspan><tspan x="436">▁(&amp;</tspan><tspan x="472">isen</tspan><tspan x="511">azzo</tspan><tspan x="550">ISD</tspan><tspan x="588">&lt;/s&gt;</tspan><tspan x="625">OPT</tspan><tspan x="662">▁reverse</tspan><tspan x="699">numbers</tspan><tspan x="779">▁nothing</tspan><tspan x="821">4</tspan><tspan x="864">Entities</tspan><tspan x="914">Entities</tspan><tspan x="974">iens</tspan></text>
<text id="row21" y="1726"><tspan x="51">▁essay</tspan><tspan x="90">▁numb</tspan><tspan x="128">▁Roma</tspan><tspan x="164">▁order</tspan><tspan x="200">▁using</tspan><tspan x="236">▁revers</tspan><tspan x="271">▁revers</tspan><tspan x="308">▁</tspan><tspan x="346">Number</tspan><tspan x="382">9</tspan><tspan x="419">▁dig</tspan><tspan x="455">7</tspan><tspan x="491">5</tspan><tspan x="530">7</tspan><tspan x="569">alue</tspan><tspan x="607">uerto</tspan><tspan x="644">isen</tspan><tspan x="681">▁reverse</tspan><tspan x="718">order</tspan><tspan x="743">4</tspan><tspan x="789">4</tspan><tspan x="833">3</tspan><tspan x="873">▁dig</tspan><tspan x="924">3</tspan><tspan x="992">4</tspan></text>
</g>
</svg>
